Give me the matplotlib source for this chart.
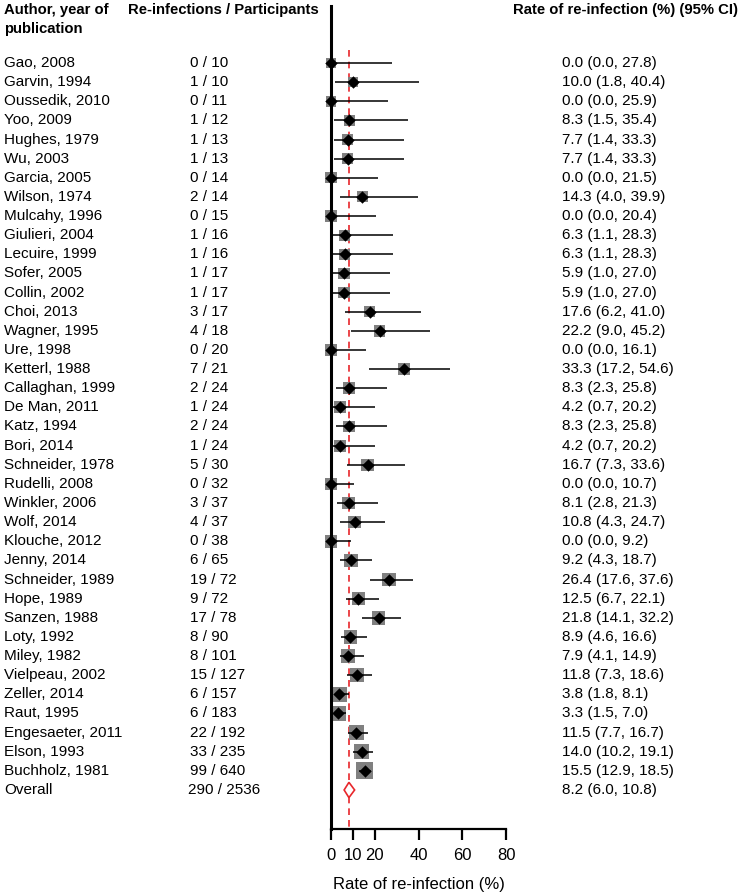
import numpy as np
import matplotlib
matplotlib.use('Agg')
import matplotlib.pyplot as plt
import matplotlib.transforms as mtransforms
from matplotlib.patches import Polygon

plt.rcParams['font.family'] = ['Liberation Sans', 'DejaVu Sans']

authors = ['Gao, 2008', 'Garvin, 1994', 'Oussedik, 2010', 'Yoo, 2009', 'Hughes, 1979',
           'Wu, 2003', 'Garcia, 2005', 'Wilson, 1974', 'Mulcahy, 1996', 'Giulieri, 2004',
           'Lecuire, 1999', 'Sofer, 2005', 'Collin, 2002', 'Choi, 2013', 'Wagner, 1995',
           'Ure, 1998', 'Ketterl, 1988', 'Callaghan, 1999', 'De Man, 2011', 'Katz, 1994',
           'Bori, 2014', 'Schneider, 1978', 'Rudelli, 2008', 'Winkler, 2006', 'Wolf, 2014',
           'Klouche, 2012', 'Jenny, 2014', 'Schneider, 1989', 'Hope, 1989', 'Sanzen, 1988',
           'Loty, 1992', 'Miley, 1982', 'Vielpeau, 2002', 'Zeller, 2014', 'Raut, 1995',
           'Engesaeter, 2011', 'Elson, 1993', 'Buchholz, 1981']
events = [0, 1, 0, 1, 1, 1, 0, 2, 0, 1, 1, 1, 1, 3, 4, 0, 7, 2, 1, 2, 1, 5, 0, 3, 4,
          0, 6, 19, 9, 17, 8, 8, 15, 6, 6, 22, 33, 99]
totals = [10, 10, 11, 12, 13, 13, 14, 14, 15, 16, 16, 17, 17, 17, 18, 20, 21, 24, 24, 24,
          24, 30, 32, 37, 37, 38, 65, 72, 72, 78, 90, 101, 127, 157, 183, 192, 235, 640]
rates = [0.0, 10.0, 0.0, 8.3, 7.7, 7.7, 0.0, 14.3, 0.0, 6.3, 6.3, 5.9, 5.9, 17.6, 22.2,
         0.0, 33.3, 8.3, 4.2, 8.3, 4.2, 16.7, 0.0, 8.1, 10.8, 0.0, 9.2, 26.4, 12.5, 21.8,
         8.9, 7.9, 11.8, 3.8, 3.3, 11.5, 14.0, 15.5]
lower = [0.0, 1.8, 0.0, 1.5, 1.4, 1.4, 0.0, 4.0, 0.0, 1.1, 1.1, 1.0, 1.0, 6.2, 9.0,
         0.0, 17.2, 2.3, 0.7, 2.3, 0.7, 7.3, 0.0, 2.8, 4.3, 0.0, 4.3, 17.6, 6.7, 14.1,
         4.6, 4.1, 7.3, 1.8, 1.5, 7.7, 10.2, 12.9]
upper = [27.8, 40.4, 25.9, 35.4, 33.3, 33.3, 21.5, 39.9, 20.4, 28.3, 28.3, 27.0, 27.0,
         41.0, 45.2, 16.1, 54.6, 25.8, 20.2, 25.8, 20.2, 33.6, 10.7, 21.3, 24.7, 9.2,
         18.7, 37.6, 22.1, 32.2, 16.6, 14.9, 18.6, 8.1, 7.0, 16.7, 19.1, 18.5]

overall_events = 290
overall_total = 2536
overall_rate = 8.2
overall_ci = (6.0, 10.8)

xticks = [0, 10, 20, 40, 60, 80]

W, H = 742, 896
fig = plt.figure(figsize=(W / 100, H / 100), dpi=100)
ax = fig.add_axes([331 / W, 67 / H, 175 / W, 823 / H])

n = len(authors)
rows = np.arange(n)
ov_row = n
ax.set_xlim(0, 80)
ax.set_ylim(40.04, -2.98)

# study squares, CI lines and point estimates
side_px = 7 + 3.5 * np.log10(np.array(totals))
sizes = (side_px * 0.72) ** 2
ax.scatter(rates, rows, s=sizes, marker='s', color='#808080', zorder=2, clip_on=False,
           linewidths=0)
ax.hlines(rows, lower, upper, color='black', lw=1.1, zorder=3)
ax.scatter(rates, rows, s=40, marker='D', color='black', zorder=4, clip_on=False,
           linewidths=0)

# reference line
ax.plot([overall_rate, overall_rate], [-0.68, 40.04], color='#e8262b', ls=(0, (4, 3)),
        lw=1.2, zorder=1, clip_on=False)

# overall diamond
lo, hi = overall_ci
dia = Polygon([[lo, ov_row], [overall_rate, ov_row - 0.4], [hi, ov_row],
               [overall_rate, ov_row + 0.4]], closed=True, facecolor='white',
              edgecolor='#e8262b', lw=1.2, zorder=5)
ax.add_patch(dia)

for s in ['top', 'right']:
    ax.spines[s].set_visible(False)
ax.spines['left'].set_linewidth(2.2)
ax.spines['bottom'].set_linewidth(1.6)
ax.set_yticks([])
ax.set_xticks(xticks)
ax.tick_params(axis='x', length=8, width=1.6, labelsize=12, pad=6)
ax.set_xlabel('Rate of re-infection (%)', fontsize=12, labelpad=10)

# table text
trans = mtransforms.blended_transform_factory(fig.transFigure, ax.transData)
fs = 11
for i in range(n):
    ax.text(4 / W, i, authors[i], transform=trans, fontsize=fs, va='center', ha='left')
    ax.text(190 / W, i, f'{events[i]} / {totals[i]}', transform=trans, fontsize=fs,
            va='center', ha='left')
    ax.text(562 / W, i, f'{rates[i]:.1f} ({lower[i]:.1f}, {upper[i]:.1f})',
            transform=trans, fontsize=fs, va='center', ha='left')
ax.text(4 / W, ov_row, 'Overall', transform=trans, fontsize=fs, va='center', ha='left')
ax.text(188 / W, ov_row, f'{overall_events} / {overall_total}', transform=trans,
        fontsize=fs, va='center', ha='left')
ax.text(562 / W, ov_row, f'{overall_rate:.1f} ({lo:.1f}, {hi:.1f})', transform=trans,
        fontsize=fs, va='center', ha='left')

# headers
hfs = 10.7
fig.text(4 / W, 1 - 3 / H, 'Author, year of\npublication', fontsize=hfs, fontweight='bold',
         va='top', ha='left', linespacing=1.45)
fig.text(128 / W, 1 - 3 / H, 'Re-infections / Participants', fontsize=hfs,
         fontweight='bold', va='top', ha='left')
fig.text(738 / W, 1 - 3 / H, 'Rate of re-infection (%) (95% CI)', fontsize=hfs,
         fontweight='bold', va='top', ha='right')

fig.savefig('out.png', dpi=100)
